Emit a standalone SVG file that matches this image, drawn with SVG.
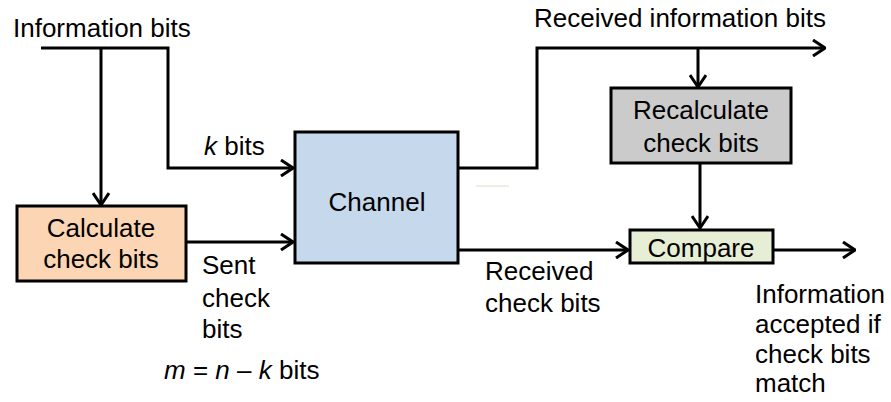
<svg xmlns="http://www.w3.org/2000/svg" width="891" height="402" viewBox="0 0 891 402">
<defs>
<marker id="arr" viewBox="0 0 14 18" refX="13" refY="9" markerWidth="14" markerHeight="18" markerUnits="userSpaceOnUse" orient="auto">
<path d="M1,1 L13,9 L1,17" fill="none" stroke="#000" stroke-width="3"/>
</marker>
<style>
text{font-family:"Liberation Sans",Arial,sans-serif;font-size:26px;fill:#000}
.c{text-anchor:middle}
.box{stroke:#000;stroke-width:3}
.ln{fill:none;stroke:#000;stroke-width:3;stroke-linejoin:miter}
</style>
</defs>
<rect width="891" height="402" fill="#fff"/>
<rect x="476" y="185" width="33" height="2" fill="#EEEEE4"/>
<g id="connectors">
<path class="ln" d="M41,48 H168 V168 H293" marker-end="url(#arr)"/>
<path class="ln" d="M101,48 V205" marker-end="url(#arr)"/>
<path class="ln" d="M186,242 H293" marker-end="url(#arr)"/>
<path class="ln" d="M458,168 H537 V48 H825" marker-end="url(#arr)"/>
<path class="ln" d="M698,48 V87" marker-end="url(#arr)"/>
<path class="ln" d="M700,163 V228" marker-end="url(#arr)"/>
<path class="ln" d="M458,250 H628" marker-end="url(#arr)"/>
<path class="ln" d="M773,250 H855" marker-end="url(#arr)"/>
</g>
<g id="calculate">
<rect class="box" x="17" y="206" width="169" height="75" fill="#FCD5B5"/>
<text class="c" x="101" y="237">Calculate</text>
<text class="c" x="101" y="268">check bits</text>
</g>
<g id="channel">
<rect class="box" x="295" y="132" width="163" height="131" fill="#C5D8EC" stroke-width="4"/>
<text class="c" x="377" y="211">Channel</text>
</g>
<g id="recalculate">
<rect class="box" x="611" y="88" width="180" height="75" fill="#CBCBCB"/>
<text class="c" x="701" y="119">Recalculate</text>
<text class="c" x="701" y="152">check bits</text>
</g>
<g id="compare">
<rect class="box" x="630" y="230" width="143" height="33" fill="#E6EED5"/>
<text class="c" x="701" y="257">Compare</text>
</g>
<g id="labels">
<text x="13" y="37">Information bits</text>
<text x="204" y="155"><tspan font-style="italic">k</tspan> bits</text>
<text x="202" y="274">Sent</text>
<text x="202" y="307">check</text>
<text x="202" y="338">bits</text>
<text x="164" y="379"><tspan font-style="italic">m</tspan> = <tspan font-style="italic">n</tspan> – <tspan font-style="italic">k</tspan> bits</text>
<text x="534" y="27">Received information bits</text>
<text x="485" y="280">Received</text>
<text x="485" y="312">check bits</text>
<text x="755" y="303">Information</text>
<text x="755" y="333">accepted if</text>
<text x="755" y="363">check bits</text>
<text x="755" y="392">match</text>
</g>
</svg>
